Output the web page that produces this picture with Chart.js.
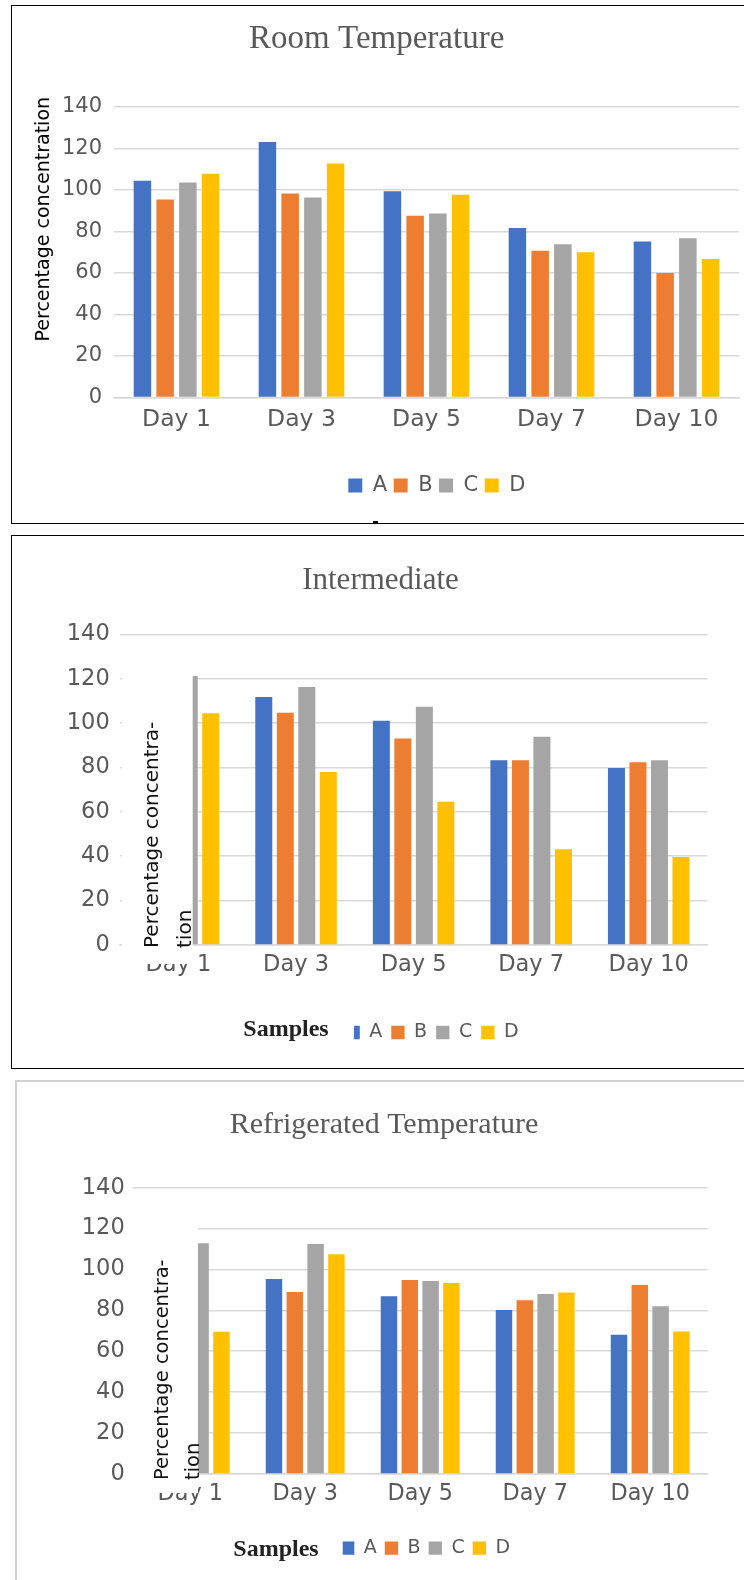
<!DOCTYPE html>
<html>
<head>
<meta charset="utf-8">
<script src="https://cdn.jsdelivr.net/npm/chart.js@4.4.1/dist/chart.umd.min.js"></script>
<style>
  html, body { margin: 0; padding: 0; background: #fff; overflow: hidden; width: 744px; height: 1580px; }
  .box { position: absolute; box-sizing: content-box; }
  #box1 { left: 11px; top: 5px; width: 900px; height: 517px; border: 1.5px solid #000; }
  #box2 { left: 11px; top: 534.5px; width: 900px; height: 532px; border: 1.5px solid #000; }
  #box3 { left: 15px; top: 1080px; width: 900px; height: 600px; border: 2px solid #d0d0d0; }
  #mark { position: absolute; left: 373px; top: 521px; width: 5px; height: 3px; background: #000; }
  canvas { position: absolute; }
  #c1 { left: 12px; top: 7px; }
  #c2 { left: 13px; top: 537px; }
  #c3 { left: 17px; top: 1083px; }
</style>
</head>
<body>
<div class="box" id="box1"></div>
<div id="mark"></div>
<div class="box" id="box2"></div>
<div class="box" id="box3"></div>
<canvas id="c1" width="729" height="515"></canvas>
<canvas id="c2" width="735" height="530"></canvas>
<canvas id="c3" width="734" height="497"></canvas>
<script>
// categories and series
var days = ["Day 1", "Day 3", "Day 5", "Day 7", "Day 10"];
var sampleNames = ["A", "B", "C", "D"];
var yTicks = [0, 20, 40, 60, 80, 100, 120, 140];

// Room Temperature
var roomA = [104.4, 123.1, 99.3, 81.6, 75.1];
var roomB = [95.4, 98.2, 87.5, 70.7, 60.0];
var roomC = [103.6, 96.3, 88.6, 73.8, 76.7];
var roomD = [107.8, 112.7, 97.6, 69.9, 66.7];

// Intermediate (Day 1 A and B are hidden behind the axis title)
var interA = [null, 111.7, 101.0, 83.3, 79.8];
var interB = [null, 104.7, 93.1, 83.3, 82.4];
var interC = [121.2, 116.2, 107.4, 93.8, 83.3];
var interD = [104.4, 77.9, 64.6, 43.2, 39.6];

// Refrigerated Temperature (Day 1 A and B hidden too)
var fridgeA = [null, 95.3, 86.9, 80.2, 68.1];
var fridgeB = [null, 89.0, 94.9, 84.9, 92.4];
var fridgeC = [112.8, 112.4, 94.4, 88.0, 82.0];
var fridgeD = [69.5, 107.4, 93.4, 88.7, 69.7];

var colors = ["#4472C4", "#ED7D31", "#A5A5A5", "#FFC000"];
var gray = "#595959";
var sans = "'DejaVu Sans', sans-serif";
var serif = "'Liberation Serif', serif";

// rotated y title, optionally on a white box that hides what is under it
var axisTitle = {
    id: "axisTitle",
    afterDraw: function(chart, args, o) {
        var ctx = chart.ctx;
        ctx.save();
        if (o.mask) {
            ctx.fillStyle = "#fff";
            ctx.fillRect(o.mask[0], o.mask[1], o.mask[2], o.mask[3]);
        }
        ctx.font = o.font;
        ctx.fillStyle = o.color;
        ctx.textAlign = o.align;
        ctx.textBaseline = "alphabetic";
        o.lines.forEach(function(t, i) {
            ctx.save();
            ctx.translate(o.x[i], o.y);
            ctx.rotate(-Math.PI / 2);
            ctx.fillText(t, 0, 0);
            ctx.restore();
        });
        ctx.restore();
    }
};

// moves the title and legend row, and draws the "Samples" lead text
var legendLead = {
    id: "legendLead",
    afterLayout: function(chart, args, o) {
        var lg = chart.legend;
        var dx = o.boxX - (lg.left + lg.options.labels.padding);
        lg.left += dx;
        lg.right += dx;

        var tb = chart.titleBlock;
        var w = tb.right - tb.left;
        tb.left = o.titleX - w / 2;
        tb.right = tb.left + w;
    },
    afterDraw: function(chart, args, o) {
        if (!o.text) return;
        var ctx = chart.ctx;
        ctx.save();
        ctx.fillStyle = "#fff";
        ctx.fillRect(o.mask[0], o.mask[1], o.mask[2], o.mask[3]);
        ctx.font = o.font;
        ctx.fillStyle = "#222";
        ctx.textBaseline = "alphabetic";
        ctx.fillText(o.text, o.textX, o.textY);
        ctx.restore();
    }
};

function makeChart(id, title, values, s) {
    var datasets = values.map(function(v, i) {
        return {
            label: sampleNames[i],
            data: v,
            backgroundColor: colors[i],
            borderWidth: 0,
            categoryPercentage: s.cat,
            barPercentage: s.bar
        };
    });

    return new Chart(document.getElementById(id), {
        type: "bar",
        data: { labels: days, datasets: datasets },
        options: {
            responsive: false,
            animation: false,
            devicePixelRatio: 1,
            layout: { padding: { top: 0, left: 0, right: s.padRight, bottom: s.padBottom } },
            scales: {
                x: {
                    grid: { display: false, drawTicks: false },
                    border: { display: true, color: "#d9d9d9", width: 1.5 },
                    ticks: { color: gray, padding: s.xPad, font: { family: sans, size: s.xFont } },
                    afterFit: function(sc) { sc.height = s.xHeight; }
                },
                y: {
                    min: 0,
                    max: 140,
                    afterBuildTicks: function(sc) { sc.ticks = yTicks.map(function(v) { return { value: v }; }); },
                    grid: { color: "#d9d9d9", lineWidth: 1.5, drawTicks: false },
                    border: { display: false },
                    ticks: { color: gray, padding: s.yPad, font: { family: sans, size: s.yFont } },
                    afterFit: function(sc) { sc.width = s.yWidth; }
                }
            },
            plugins: {
                title: {
                    display: true,
                    text: title,
                    color: gray,
                    font: { family: serif, size: s.titleSize, weight: "normal", lineHeight: 1.2 },
                    padding: { top: s.titleTop, bottom: s.titleBottom }
                },
                legend: {
                    position: "bottom",
                    align: "start",
                    labels: {
                        color: gray,
                        boxWidth: s.box,
                        boxHeight: s.box,
                        padding: s.legPad,
                        font: { family: sans, size: s.legFont }
                    }
                },
                tooltip: { enabled: false },
                axisTitle: s.axisTitle,
                legendLead: s.lead
            }
        },
        plugins: [axisTitle, legendLead]
    });
}

makeChart("c1", "Room Temperature", [roomA, roomB, roomC, roomD], {
    cat: 0.727, bar: 0.77,
    padRight: 2, padBottom: 16,
    titleSize: 33, titleTop: 12.8, titleBottom: 47.4,
    yWidth: 102, yPad: 12, yFont: 21,
    xHeight: 71, xPad: 7.8, xFont: 23.5,
    box: 14, legPad: 6.5, legFont: 21,
    axisTitle: {
        lines: ["Percentage concentration"], x: [36.6], y: 212.2,
        align: "center", font: "19px " + sans, color: "#000", mask: null
    },
    lead: { boxX: 336.3, titleX: 364.7 }
});

makeChart("c2", "Intermediate", [interA, interB, interC, interD], {
    cat: 0.732, bar: 0.79,
    padRight: 40.5, padBottom: 15,
    titleSize: 31, titleTop: 25.6, titleBottom: 34.5,
    yWidth: 106.7, yPad: 10, yFont: 22.5,
    xHeight: 69, xPad: 6.7, xFont: 22.5,
    box: 13.3, legPad: 9, legFont: 19,
    axisTitle: {
        lines: ["Percentage concentra-", "tion"], x: [144.7, 177.7], y: 411,
        align: "left", font: "20px " + sans, color: "#111", mask: [109, 123, 70.7, 304]
    },
    lead: {
        boxX: 333.5, titleX: 367.5, text: "Samples", textX: 230.3, textY: 499,
        font: "bold 24px " + serif, mask: [225, 478, 116, 37]
    }
});

makeChart("c3", "Refrigerated Temperature", [fridgeA, fridgeB, fridgeC, fridgeD], {
    cat: 0.724, bar: 0.79,
    padRight: 43.3, padBottom: 12.3,
    titleSize: 30, titleTop: 23.9, titleBottom: 44.8,
    yWidth: 115.7, yPad: 8, yFont: 22.5,
    xHeight: 56.8, xPad: 6.7, xFont: 22.3,
    box: 13.3, legPad: 8, legFont: 19,
    axisTitle: {
        lines: ["Percentage concentra-", "tion"], x: [150.6, 182.3], y: 397,
        align: "left", font: "19.5px " + sans, color: "#111", mask: [111, 117, 70, 293]
    },
    lead: {
        boxX: 324, titleX: 367, text: "Samples", textX: 216.3, textY: 473,
        font: "bold 24px " + serif, mask: [210, 450, 115.7, 35]
    }
});
</script>
</body>
</html>
